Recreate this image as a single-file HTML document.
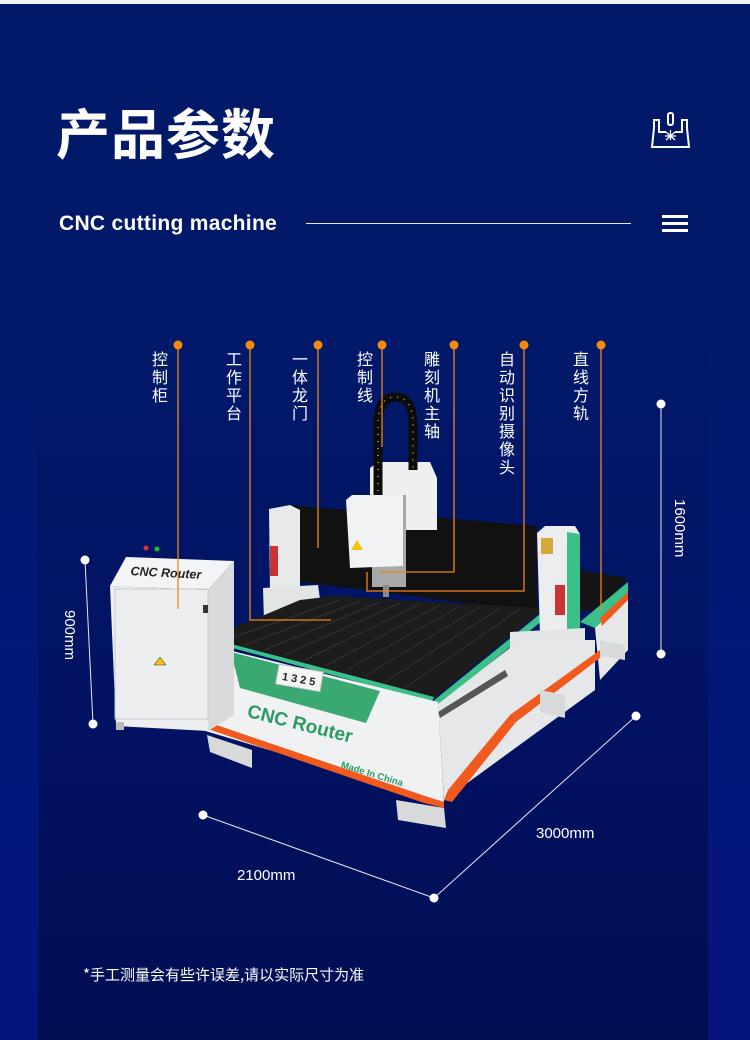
<!DOCTYPE html>
<html><head><meta charset="utf-8">
<style>
html,body{margin:0;padding:0}
body{width:750px;height:1040px;position:relative;overflow:hidden;font-family:"Liberation Sans","Noto Sans CJK SC",sans-serif;
background:linear-gradient(#02196a 0%,#02196a 30%,#03177a 70%,#04157e 100%);}
.top{position:absolute;left:0;top:0;width:750px;height:4px;background:#f2f3f5}
.panel{position:absolute;left:38px;top:4px;width:670px;height:1036px;background:linear-gradient(#02196a 0%,#02196a 30%,#021262 70%,#020e52 100%)}
.abs{position:absolute;color:#fff}
.vt{position:absolute;color:#fff;font-size:16px;line-height:18px;width:18px;text-align:center;top:349px;font-family:"Noto Sans CJK SC",sans-serif}
</style></head><body>
<div class="top"></div>
<div class="panel"></div>
<div class="abs" style="left:56px;top:96px;font-size:54px;font-weight:bold;line-height:70px;font-family:'Noto Sans CJK SC',sans-serif;letter-spacing:1px">产品参数</div>
<div class="abs" style="left:59px;top:210px;font-size:21px;line-height:28px;font-weight:bold;font-family:'Liberation Sans',sans-serif;letter-spacing:0.3px">CNC cutting machine</div>
<div class="abs" style="left:306px;top:223px;width:325px;height:1px;background:#e8e8f0"></div>
<div class="abs" style="left:662px;top:215px;width:26px;height:3px;background:#fff"></div>
<div class="abs" style="left:662px;top:222px;width:26px;height:3px;background:#fff"></div>
<div class="abs" style="left:662px;top:229px;width:26px;height:3px;background:#fff"></div>
<svg class="abs" style="left:650px;top:112px" width="42" height="38" viewBox="0 0 42 38" fill="none" stroke="#fff" stroke-width="2">
<rect x="18" y="1" width="5" height="12" rx="2"/>
<path d="M4 16 L4 8 L9 8 L9 20 L16 20 M25 20 L32 20 L32 8 L37 8 L37 16 M4 16 L2 35 L39 35 L37 16"/>
<path d="M20.5 18 V28 M15 24 L26 24 M16 20 L25 28 M25 20 L16 28" stroke-width="1.3"/>
</svg>

<svg class="abs" style="left:0;top:0" width="750" height="1040" viewBox="0 0 750 1040">
<polygon points="540,575 580,570 628,578 600,610 560,612" fill="#151515"/>
<polygon points="580,622 628,582 628,598 600,630" fill="#3cc08a"/>
<polygon points="595,628 628,598 628,650 600,680" fill="#e7e8ea"/>
<polygon points="600,618 628,592 628,600 602,626" fill="#f05a1e"/>
<polygon points="286,505 537,526 537,612 286,580" fill="#111"/>
<polygon points="269,509 290,505 300,510 300,588 270,590" fill="#e9eaec"/>
<polygon points="263,588 318,585 323,620 264,622" fill="#e3e4e6"/>
<rect x="270" y="546" width="8" height="30" fill="#c33"/>
<polygon points="370,468 378,462 430,462 437,478 437,530 370,530" fill="#eeeff1"/>
<path d="M378 498 L378 425 Q378 397 395 397 Q413 397 413 425 L413 470" stroke="#0c0c0c" stroke-width="9" fill="none"/>
<path d="M378 498 L378 425 Q378 397 395 397 Q413 397 413 425 L413 470" stroke="#d8b020" stroke-width="1.5" stroke-dasharray="1 6" fill="none"/>
<rect x="372" y="495" width="34" height="92" fill="#a8a8a8"/>
<rect x="383" y="585" width="6" height="12" fill="#888"/>
<polygon points="346,500 352,495 403,495 403,566 350,568" fill="#f1f2f4"/>
<polygon points="351,550 357,540 363,550" fill="#f3c30e"/>
<polygon points="205,640 300,600 334,596 537,608 540,612 432,700" fill="#1c1c1c"/>
<g stroke="#333" stroke-width="1">
<line x1="225" y1="640" x2="340" y2="600"/><line x1="245" y1="645" x2="360" y2="601"/>
<line x1="265" y1="650" x2="380" y2="602"/><line x1="285" y1="655" x2="400" y2="603"/>
<line x1="305" y1="660" x2="420" y2="604"/><line x1="325" y1="666" x2="440" y2="605"/>
<line x1="345" y1="671" x2="460" y2="606"/><line x1="365" y1="676" x2="480" y2="607"/>
<line x1="385" y1="682" x2="500" y2="608"/><line x1="405" y1="688" x2="520" y2="609"/>
</g>
<polygon points="203,640 208,638 434,697 432,702" fill="#3cc08a"/>
<polygon points="432,702 540,614 548,616 438,706" fill="#3cc08a"/>
<polygon points="537,533 545,526 575,526 580,534 580,628 540,636" fill="#ecedef"/>
<polygon points="567,532 580,534 580,628 567,632" fill="#3cc08a"/>
<rect x="541" y="538" width="12" height="16" fill="#d6a83a"/>
<rect x="555" y="585" width="10" height="30" fill="#c33"/>
<polygon points="510,632 585,628 585,688 520,700 510,690" fill="#e4e5e7"/>
<polygon points="438,704 520,640 595,640 595,690 444,800" fill="#e6e7e9"/>
<polygon points="438,712 505,670 508,676 440,718" fill="#555"/>
<polygon points="444,800 448,790 510,715 600,650 600,658 516,722 452,802" fill="#f05a1e"/>
<polygon points="200,643 438,702 444,802 202,730" fill="#f0f1f3"/>
<polygon points="231,652 380,691 366,723 240,688" fill="#3aa971"/>
<polygon points="202,720 425,796 444,802 444,808 424,803 202,727" fill="#f05a1e"/>
<rect x="277" y="668" width="45" height="20" fill="#f5f5f5" stroke="#bbb" transform="rotate(10 300 678)"/>
<text x="299" y="683" font-family="Liberation Sans" font-weight="bold" font-size="11" fill="#222" text-anchor="middle" transform="rotate(10 300 678)">1 3 2 5</text>
<text x="300" y="730" font-family="Liberation Sans" font-weight="bold" font-size="19" fill="#2a9c62" text-anchor="middle" transform="rotate(14 300 724)">CNC Router</text>
<text x="372" y="777" font-family="Liberation Sans" font-weight="bold" font-size="9.5" fill="#2a9c62" text-anchor="middle" transform="rotate(17 372 774)">Made In China</text>
<polygon points="207,735 252,750 252,768 210,752" fill="#d8d9db"/>
<polygon points="396,800 444,808 446,828 398,820" fill="#d8d9db"/>
<polygon points="540,690 565,695 565,718 540,712" fill="#d8d9db"/>
<polygon points="600,640 625,645 625,660 600,656" fill="#d8d9db"/>
<polygon points="110,586 126,557 234,561 208,590" fill="#f3f4f6"/>
<polygon points="208,590 234,561 234,715 208,731" fill="#d9dadc"/>
<polygon points="110,586 208,590 208,731 116,726" fill="#eceef0"/>
<rect x="115" y="589" width="93" height="130" fill="none" stroke="#c8c9cb"/>
<rect x="116" y="722" width="8" height="8" fill="#bbb"/>
<circle cx="146" cy="548" r="2.5" fill="#d33"/><circle cx="157" cy="549" r="2.5" fill="#2b2"/>
<text x="166" y="577" font-family="Liberation Sans" font-weight="bold" font-style="italic" font-size="12.5" fill="#222" text-anchor="middle" transform="rotate(3 166 572)">CNC Router</text>
<polygon points="160,657 154,665 166,665" fill="#f3c30e" stroke="#222" stroke-width="0.5"/>
<rect x="203" y="605" width="5" height="8" fill="#333"/>

<g stroke="#f08519" stroke-width="1.3" fill="none">
<path d="M178 346 V609"/>
<path d="M250 346 V620 H331"/>
<path d="M318 346 V548"/>
<path d="M382 346 V447"/>
<path d="M454 346 V572 H379"/>
<path d="M524 346 V591 H367 V572"/>
<path d="M601 346 V611"/>
</g>
<g fill="#f58a0c">
<circle cx="178" cy="345" r="4.5"/><circle cx="250" cy="345" r="4.5"/><circle cx="318" cy="345" r="4.5"/>
<circle cx="382" cy="345" r="4.5"/><circle cx="454" cy="345" r="4.5"/><circle cx="524" cy="345" r="4.5"/><circle cx="601" cy="345" r="4.5"/>
</g>

<g stroke="#e6e8f0" stroke-width="1" fill="none">
<line x1="85" y1="560" x2="93" y2="724"/>
<line x1="661" y1="404" x2="661" y2="654"/>
<line x1="203" y1="815" x2="434" y2="898"/>
<line x1="434" y1="898" x2="636" y2="716"/>
</g>
<g fill="#fff">
<circle cx="85" cy="560" r="4.5"/><circle cx="93" cy="724" r="4.5"/>
<circle cx="661" cy="404" r="4.5"/><circle cx="661" cy="654" r="4.5"/>
<circle cx="203" cy="815" r="4.5"/><circle cx="434" cy="898" r="4.5"/><circle cx="636" cy="716" r="4.5"/>
</g>
<g font-family="Liberation Sans" font-size="15" fill="#fff">
<text x="0" y="0" transform="translate(65 610) rotate(90)">900mm</text>
<text x="0" y="0" transform="translate(675 499) rotate(90)">1600mm</text>
<text x="237" y="880">2100mm</text>
<text x="536" y="838">3000mm</text>
</g>
</svg>

<div class="vt" style="left:151px">控<br>制<br>柜</div>
<div class="vt" style="left:225px">工<br>作<br>平<br>台</div>
<div class="vt" style="left:291px">一<br>体<br>龙<br>门</div>
<div class="vt" style="left:356px">控<br>制<br>线</div>
<div class="vt" style="left:423px">雕<br>刻<br>机<br>主<br>轴</div>
<div class="vt" style="left:498px">自<br>动<br>识<br>别<br>摄<br>像<br>头</div>
<div class="vt" style="left:572px">直<br>线<br>方<br>轨</div>

<div class="abs" style="left:83px;top:964px;font-size:15px;line-height:22px;font-family:'Noto Sans CJK SC',sans-serif">*手工测量会有些许误差,请以实际尺寸为准</div>
</body></html>
